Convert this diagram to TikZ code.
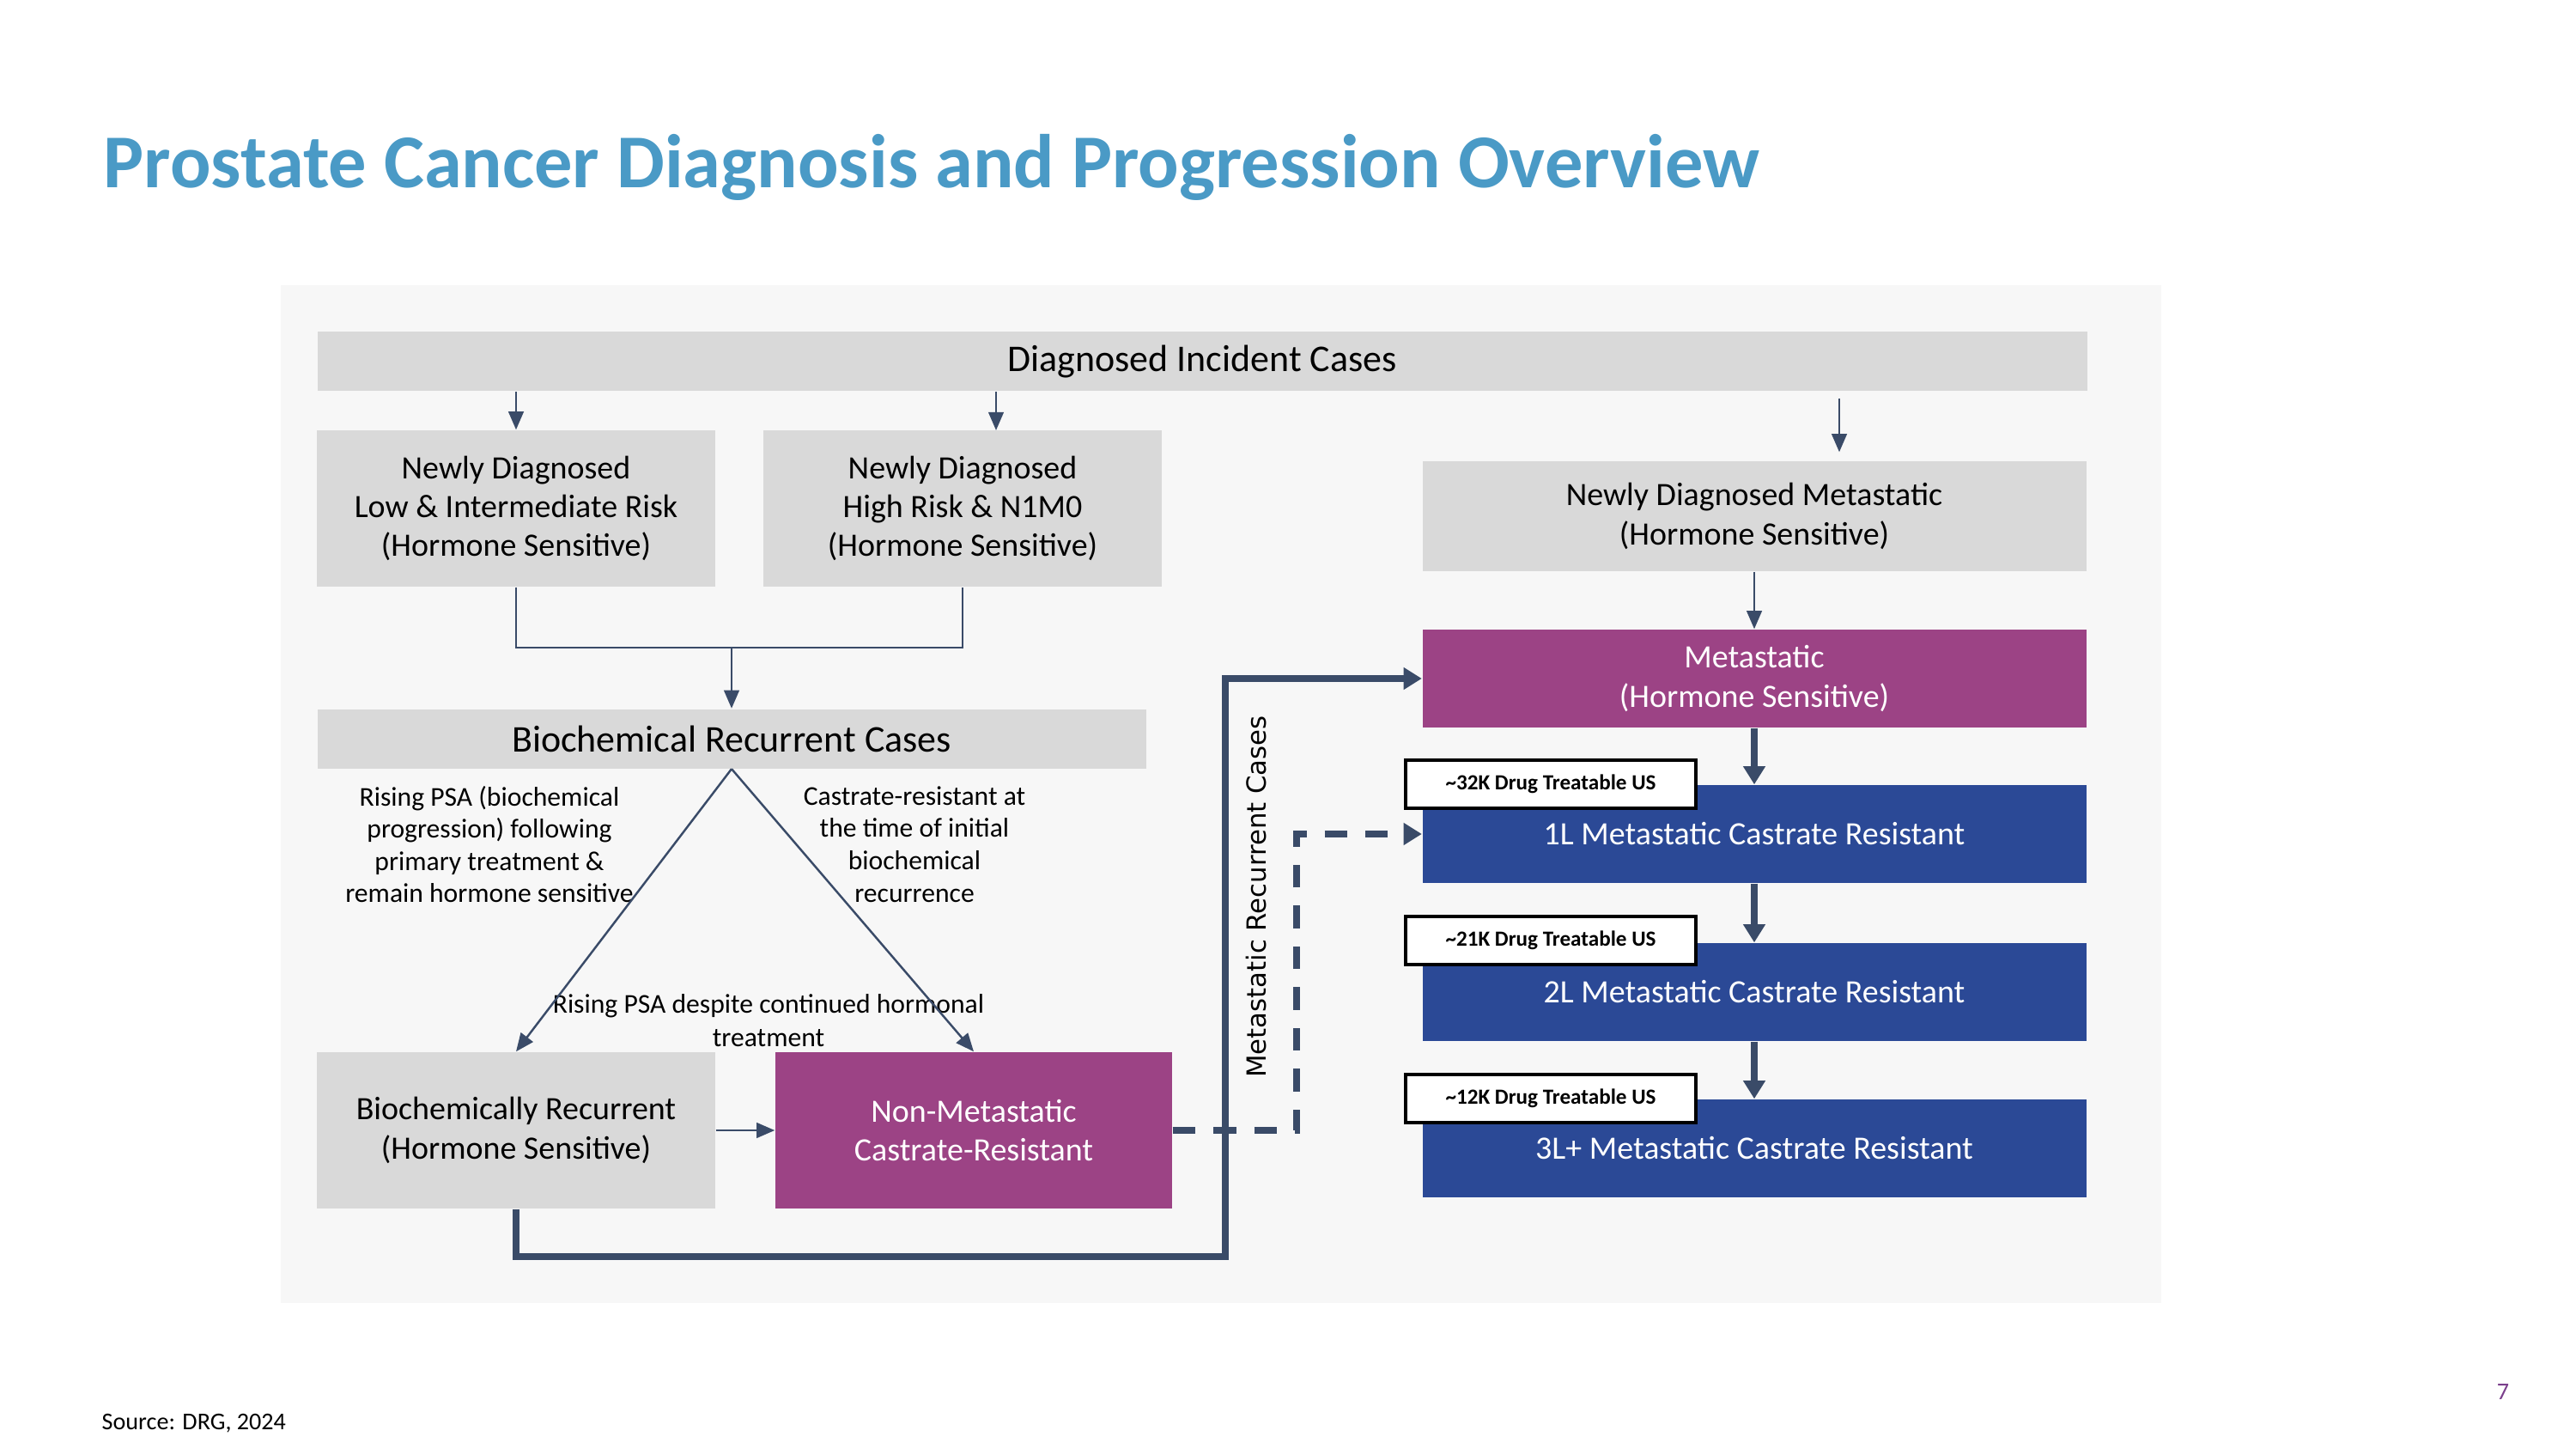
\documentclass[tikz,border=0pt]{standalone}
\usepackage{fontspec}
\setmainfont{Carlito}
\newfontfamily\vertfont{DejaVu Sans}
\usetikzlibrary{arrows.meta,calc,shadows}
\definecolor{titleblue}{HTML}{4A9AC6}
\definecolor{panel}{HTML}{F7F7F7}
\definecolor{boxgray}{HTML}{D9D9D9}
\definecolor{plum}{HTML}{9C4385}
\definecolor{navy}{HTML}{2B4996}
\definecolor{slate}{HTML}{3A4B68}
\definecolor{pagenum}{HTML}{7B3F8C}
\tikzset{
  anyBox/.style={align=center, inner sep=0pt, font=\fontsize{10.8}{12.9}\selectfont},
  grayBox/.style={anyBox, fill=boxgray, text=black},
  plumBox/.style={anyBox, fill=plum, text=white},
  navyBox/.style={anyBox, fill=navy, text=white, minimum width=7.73cm, minimum height=1.14cm},
  barBox/.style={grayBox, minimum height=0.69cm, font=\fontsize{12.5}{15}\selectfont},
  tagBox/.style={draw=black, line width=0.9pt, fill=white, inner sep=0pt,
    drop shadow={shadow xshift=0.6pt, shadow yshift=-0.6pt, fill=black!55, opacity=0.7},
    minimum width=3.38cm, minimum height=0.56cm, font=\bfseries\fontsize{7.15}{8.5}\selectfont},
  noteLbl/.style={align=center, text=black, font=\fontsize{9}{10.7}\selectfont},
  thinArrow/.style={draw=slate, line width=0.7pt, -{Triangle[width=5pt,length=6pt]}},
  thinLine/.style={draw=slate, line width=0.7pt},
  thickArrow/.style={draw=slate, line width=2.1pt, -{Triangle[width=7pt,length=6pt]}},
  dashArrow/.style={draw=slate, line width=2.1pt, dash pattern=on 7.5pt off 6pt, -{Triangle[width=7pt,length=6pt]}},
}

\begin{document}
\begin{tikzpicture}
  \useasboundingbox (0,0) rectangle (30,-16.87);
  \fill[white] (0,0) rectangle (30,-16.87);
  \fill[panel] (3.27,-3.32) rectangle (25.17,-15.17);

  \node[anchor=west, inner sep=0pt, text=titleblue, font=\bfseries\fontsize{25.2}{30}\selectfont] (title) at (1.20,-1.95)
    {Prostate Cancer Diagnosis and Progression Overview};

  % left branch
  \node[barBox, minimum width=20.61cm] (incident) at (14.00,-4.21) {Diagnosed Incident Cases};
  \node[grayBox, minimum width=4.64cm, minimum height=1.82cm] (lowRisk) at (6.01,-5.92)
    {Newly Diagnosed\\Low \& Intermediate Risk\\(Hormone Sensitive)};
  \node[grayBox, minimum width=4.64cm, minimum height=1.82cm] (highRisk) at (11.21,-5.92)
    {Newly Diagnosed\\High Risk \& N1M0\\(Hormone Sensitive)};
  \node[barBox, minimum width=9.65cm] (biochem) at (8.52,-8.60) {Biochemical Recurrent Cases};
  \node[grayBox, minimum width=4.64cm, minimum height=1.82cm] (bcrHS) at (6.01,-13.16)
    {Biochemically Recurrent\\(Hormone Sensitive)};
  \node[plumBox, minimum width=4.62cm, minimum height=1.82cm] (nmCRPC) at (11.34,-13.16)
    {Non-Metastatic\\Castrate-Resistant};

  % right branch
  \node[grayBox, minimum width=7.73cm, minimum height=1.28cm] (ndMet) at (20.43,-6.01)
    {Newly Diagnosed Metastatic\\(Hormone Sensitive)};
  \node[plumBox, minimum width=7.73cm, minimum height=1.14cm] (metHS) at (20.43,-7.90)
    {Metastatic\\(Hormone Sensitive)};
  \node[navyBox] (firstL) at (20.43,-9.71) {1L Metastatic Castrate Resistant};
  \node[navyBox] (secondL) at (20.43,-11.55) {2L Metastatic Castrate Resistant};
  \node[navyBox] (thirdL) at (20.43,-13.37) {3L+ Metastatic Castrate Resistant};
  \node[tagBox] (tagA) at (18.06,-9.13) {\textasciitilde32K Drug Treatable US};
  \node[tagBox] (tagB) at (18.06,-10.95) {\textasciitilde21K Drug Treatable US};
  \node[tagBox] (tagC) at (18.06,-12.79) {\textasciitilde12K Drug Treatable US};

  \node[noteLbl] (noteL) at (5.70,-9.83)
    {Rising PSA (biochemical\\progression) following\\primary treatment \&\\remain hormone sensitive};
  \node[noteLbl] (noteR) at (10.65,-9.83)
    {Castrate-resistant at\\the time of initial\\biochemical\\recurrence};
  \node[noteLbl, font=\fontsize{9}{11}\selectfont] (noteM) at (8.95,-11.88)
    {Rising PSA despite continued hormonal\\treatment};
  \node[rotate=90, font=\vertfont\fontsize{8.75}{10}\selectfont] (metRec) at (14.63,-10.44)
    {Metastatic Recurrent Cases};

  \coordinate (hiTap) at (11.60,-5.01);
  \coordinate (metTap) at (21.42,-4.64);
  \coordinate (mergeC) at (8.52,-7.54);
  \coordinate (loopC) at (14.27,-14.63);
  \coordinate (dashC) at (15.10,-9.71);

  \draw[thinArrow] (incident.south -| lowRisk) -- (lowRisk.north);
  \draw[thinArrow] (incident.south -| hiTap) -- (hiTap);
  \draw[thinArrow] (metTap) -- ($(ndMet.north -| metTap)+(0,0.1)$);
  \draw[thinLine] (lowRisk.south) |- (mergeC) -| (highRisk.south);
  \draw[thinArrow] (mergeC) -- (biochem.north);
  \draw[thinArrow] (biochem.south) -- (bcrHS.north);
  \draw[thinArrow] (biochem.south) -- (nmCRPC.north);
  \draw[thinArrow] (bcrHS.east) -- (nmCRPC.west);
  \draw[thinArrow] (ndMet.south) -- (metHS.north);

  \draw[thickArrow] (bcrHS.south) |- (loopC) |- (metHS.west);
  \draw[dashArrow] (nmCRPC.east) -| (dashC) -- (firstL.west);
  \draw[thickArrow] (metHS.south) -- (firstL.north);
  \draw[thickArrow] (firstL.south) -- (secondL.north);
  \draw[thickArrow] (secondL.south) -- (thirdL.north);

  \node[anchor=west, inner sep=0pt, font=\fontsize{8}{10}\selectfont] (source) at (1.18,-16.57) {Source: DRG, 2024};
  \node[text=pagenum, font=\fontsize{8}{10}\selectfont] (pageNo) at (29.15,-16.20) {7};
\end{tikzpicture}
\end{document}
